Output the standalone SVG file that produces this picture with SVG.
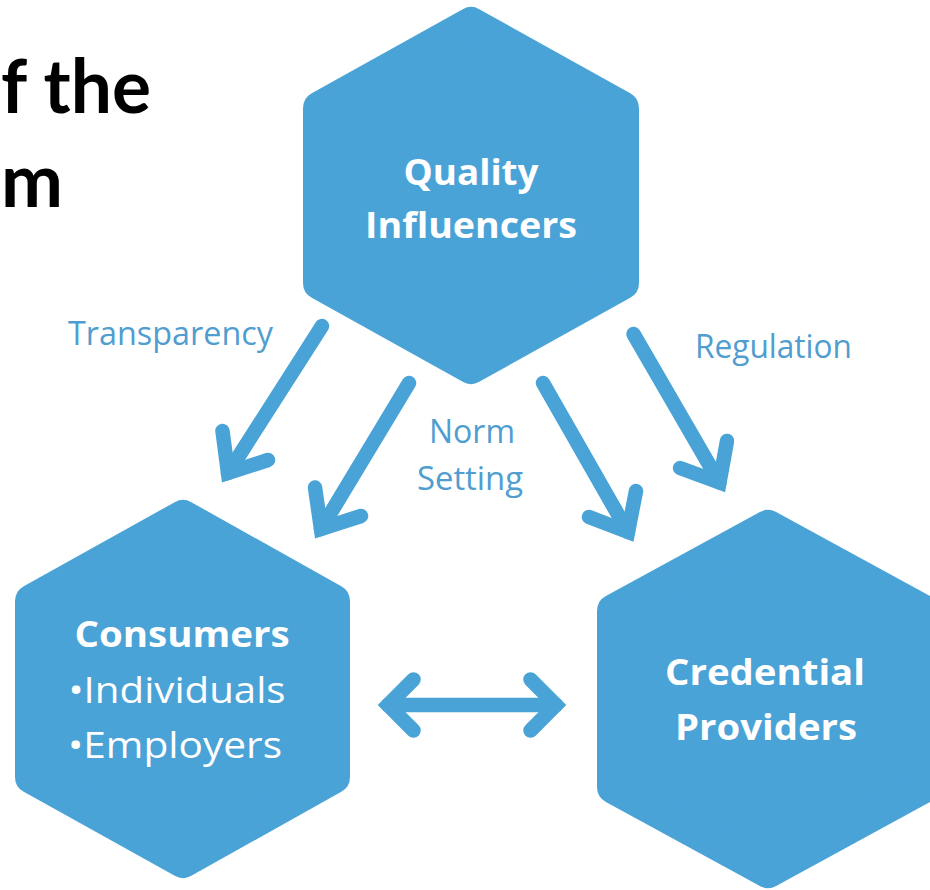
<svg xmlns="http://www.w3.org/2000/svg" width="930" height="890" viewBox="0 0 930 890">
<style>
.hex{fill:#4aa3d7;stroke:#4aa3d7;stroke-width:34;stroke-linejoin:round}
.t{font-family:"Open Sans","DejaVu Sans",sans-serif;fill:#fff;text-anchor:middle}
.b{font-weight:bold;font-size:36px}
.r{font-weight:normal;font-size:36px}
.lbl{font-family:"Open Sans","DejaVu Sans",sans-serif;font-size:32px;fill:#509dd0}
.title{font-family:Lato,"Liberation Sans",sans-serif;font-weight:bold;font-size:74px;fill:#000}
.ar{fill:none;stroke:#4aa3d7;stroke-width:14.5;stroke-linecap:round;stroke-linejoin:miter}
</style>
<rect width="930" height="890" fill="#fff"/>
<g id="title">
<text class="title" x="1" y="113" textLength="150" lengthAdjust="spacingAndGlyphs">f the</text>
<text class="title" x="1" y="207">m</text>
</g>
<g id="quality-influencers">
<polygon class="hex" points="471,24 622,108 622,283 471,367 320,283 320,108"/>
<text class="t b" x="471" y="185" textLength="135" lengthAdjust="spacingAndGlyphs">Quality</text>
<text class="t b" x="471" y="238" textLength="212" lengthAdjust="spacingAndGlyphs">Influencers</text>
</g>
<g id="consumers">
<polygon class="hex" points="183,517 333,601 333,777 183,861 32,777 32,601"/>
<text class="t b" x="182" y="647" textLength="215" lengthAdjust="spacingAndGlyphs">Consumers</text>
<text class="t r" x="177" y="703" textLength="217" lengthAdjust="spacingAndGlyphs">•Individuals</text>
<text class="t r" x="175" y="758" textLength="214" lengthAdjust="spacingAndGlyphs">•Employers</text>
</g>
<g id="credential-providers">
<polygon class="hex" points="768,527 922,611 922,787 768,871 614,787 614,611"/>
<text class="t b" x="765" y="685" textLength="200" lengthAdjust="spacingAndGlyphs">Credential</text>
<text class="t b" x="766" y="740" textLength="182" lengthAdjust="spacingAndGlyphs">Providers</text>
</g>
<g id="connectors">
<line class="ar" x1="322" y1="326" x2="228" y2="473"/>
<polyline class="ar" points="222.5,431 228,473 268,460"/>
<line class="ar" x1="409" y1="383" x2="321" y2="529"/>
<polyline class="ar" points="315,487.5 321,529 361,516"/>
<line class="ar" x1="543" y1="383" x2="628" y2="532"/>
<polyline class="ar" points="636,491 628,532 589,517"/>
<line class="ar" x1="633.5" y1="334" x2="719.5" y2="482.5"/>
<polyline class="ar" points="727,441 719.5,482.5 680,468"/>
<line class="ar" x1="388" y1="705" x2="556" y2="705"/>
<polyline class="ar" points="413.5,679.5 388,705 413.5,730.5"/>
<polyline class="ar" points="530.5,679.5 556,705 530.5,730.5"/>
</g>
<g id="labels">
<text class="lbl" x="68" y="345" textLength="205" lengthAdjust="spacingAndGlyphs">Transparency</text>
<text class="lbl" x="695" y="358" textLength="157" lengthAdjust="spacingAndGlyphs">Regulation</text>
<text class="lbl" x="429" y="443" textLength="86" lengthAdjust="spacingAndGlyphs">Norm</text>
<text class="lbl" x="417" y="490" textLength="106" lengthAdjust="spacingAndGlyphs">Setting</text>
</g>
</svg>
